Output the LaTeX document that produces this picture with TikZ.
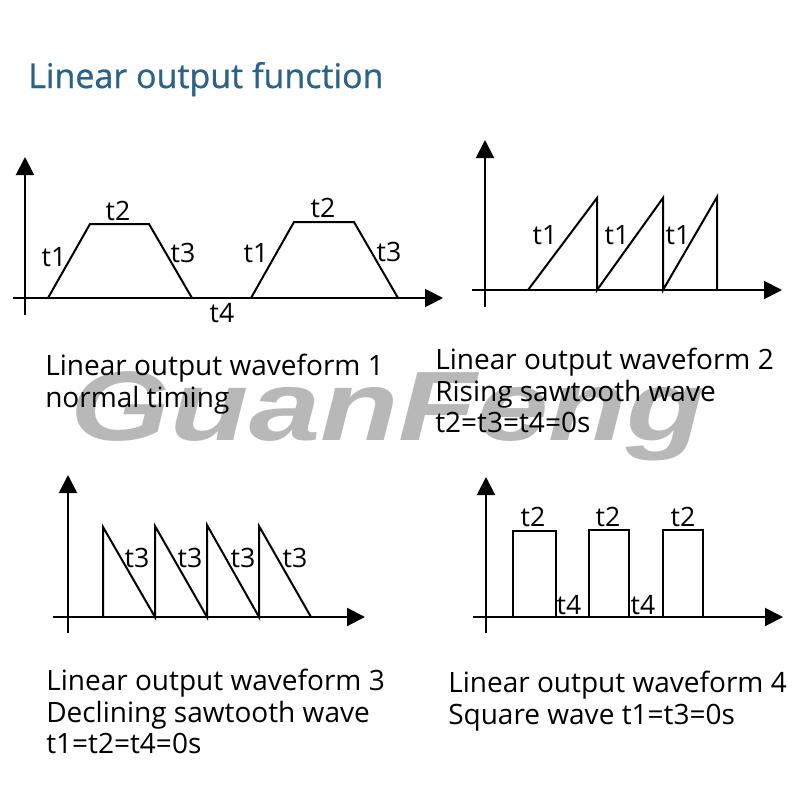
\documentclass[tikz,border=0pt]{standalone}
\usepackage{fontspec}
\setmainfont{Open Sans}
\newfontfamily\wmfont{Liberation Sans}
\newfontfamily\titlefont{Open Sans}[FakeBold=0.8]
\usetikzlibrary{arrows.meta}
\definecolor{titleblue}{RGB}{44,98,135}
\definecolor{wmgray}{RGB}{184,184,184}
\tikzset{
  axis/.style={line width=1.5pt,-{Triangle[length=13.5pt,width=13.5pt]}},
  wave/.style={line width=1.5pt,line join=miter},
  tlabel/.style={inner sep=0pt,font=\fontsize{20pt}{20pt}\selectfont},
  caption/.style={anchor=base west,inner sep=0pt,font=\fontsize{21pt}{24pt}\selectfont},
}
\begin{document}
\begin{tikzpicture}[x=0.75pt,y=-0.75pt]
\useasboundingbox (0,0) rectangle (800,800);
\fill[white] (0,0) rectangle (800,800);

% watermark
\node[anchor=base,inner sep=0pt,text=wmgray,font=\wmfont\bfseries\itshape\fontsize{74pt}{74pt}\selectfont,xscale=1.3] (wm) at (388,440) {GuanFeng};

% title
\node[anchor=base west,inner sep=0pt,text=titleblue,font=\titlefont\fontsize{25.5pt}{30pt}\selectfont] (title) at (28,88) {Linear output function};

% ---------- panel 1 ----------
\coordinate (a1b) at (25,315); \coordinate (a1t) at (25,157);
\coordinate (x1l) at (13,298); \coordinate (x1r) at (443,298);
\draw[axis] (a1b) -- (a1t);
\draw[axis] (x1l) -- (x1r);
\coordinate (p1a) at (48,298); \coordinate (p1b) at (90,224); \coordinate (p1c) at (149,224); \coordinate (p1d) at (192,298);
\coordinate (p1e) at (251,298); \coordinate (p1f) at (294,222); \coordinate (p1g) at (354,222); \coordinate (p1h) at (398,298);
\draw[wave] (p1a) -- (p1b) -- (p1c) -- (p1d);
\draw[wave] (p1e) -- (p1f) -- (p1g) -- (p1h);
\node[tlabel] (l1a) at (54,257) {t1};
\node[tlabel] (l1b) at (118,211) {t2};
\node[tlabel] (l1c) at (183,253) {t3};
\node[tlabel] (l1d) at (256,253) {t1};
\node[tlabel] (l1e) at (323,208) {t2};
\node[tlabel] (l1f) at (389,252) {t3};
\node[tlabel] (l1g) at (222,313) {t4};

% ---------- panel 2 ----------
\coordinate (a2b) at (485,307); \coordinate (a2t) at (485,140);
\coordinate (x2l) at (472,290); \coordinate (x2r) at (782,290);
\draw[axis] (a2b) -- (a2t);
\draw[axis] (x2l) -- (x2r);
\coordinate (p2a) at (528,290); \coordinate (p2b) at (597,198); \coordinate (p2c) at (597,290);
\coordinate (p2d) at (663,198); \coordinate (p2e) at (663,290);
\coordinate (p2f) at (717,197); \coordinate (p2g) at (717,290);
\draw[wave] (p2a) -- (p2b) -- (p2c) -- (p2d) -- (p2e) -- (p2f) -- (p2g);
\node[tlabel] (l2a) at (545,235) {t1};
\node[tlabel] (l2b) at (617,235) {t1};
\node[tlabel] (l2c) at (678,235) {t1};

% ---------- panel 3 ----------
\coordinate (a3b) at (68,633); \coordinate (a3t) at (68,475);
\coordinate (x3l) at (53,617); \coordinate (x3r) at (365,617);
\draw[axis] (a3b) -- (a3t);
\draw[axis] (x3l) -- (x3r);
\coordinate (p3a) at (103,617); \coordinate (p3b) at (103,527); \coordinate (p3c) at (155,617);
\coordinate (p3d) at (155,526); \coordinate (p3e) at (207,617);
\coordinate (p3f) at (207,525); \coordinate (p3g) at (259,617);
\coordinate (p3h) at (259,526); \coordinate (p3i) at (311,617);
\draw[wave] (p3a) -- (p3b) -- (p3c) -- (p3d) -- (p3e) -- (p3f) -- (p3g) -- (p3h) -- (p3i);
\node[tlabel] (l3a) at (137,558) {t3};
\node[tlabel] (l3b) at (190,558) {t3};
\node[tlabel] (l3c) at (243,558) {t3};
\node[tlabel] (l3d) at (295,558) {t3};

% ---------- panel 4 ----------
\coordinate (a4b) at (486,633); \coordinate (a4t) at (486,477);
\coordinate (x4l) at (473,617); \coordinate (x4r) at (783,617);
\draw[axis] (a4b) -- (a4t);
\draw[axis] (x4l) -- (x4r);
\coordinate (r1a) at (513,617); \coordinate (r1b) at (513,531); \coordinate (r1c) at (556,531); \coordinate (r1d) at (556,617);
\coordinate (r2a) at (589,617); \coordinate (r2b) at (589,530); \coordinate (r2c) at (629,530); \coordinate (r2d) at (629,617);
\coordinate (r3a) at (663,617); \coordinate (r3b) at (663,530); \coordinate (r3c) at (703,530); \coordinate (r3d) at (703,617);
\draw[wave] (r1a) -- (r1b) -- (r1c) -- (r1d);
\draw[wave] (r2a) -- (r2b) -- (r2c) -- (r2d);
\draw[wave] (r3a) -- (r3b) -- (r3c) -- (r3d);
\node[tlabel] (l4a) at (533,517) {t2};
\node[tlabel] (l4b) at (608,517) {t2};
\node[tlabel] (l4c) at (683,517) {t2};
\node[tlabel] (l4d) at (569,605) {t4};
\node[tlabel] (l4e) at (643,605) {t4};

% ---------- captions ----------
\node[caption] (c1a) at (45,375) {Linear output waveform 1};
\node[caption] (c1b) at (45,407) {normal timing};
\node[caption] (c2a) at (435,369) {Linear output waveform 2};
\node[caption] (c2b) at (435,401) {Rising sawtooth wave};
\node[caption] (c2c) at (435,432) {t2=t3=t4=0s};
\node[caption] (c3a) at (46,690) {Linear output waveform 3};
\node[caption] (c3b) at (46,722) {Declining sawtooth wave};
\node[caption] (c3c) at (46,753) {t1=t2=t4=0s};
\node[caption] (c4a) at (448,692) {Linear output waveform 4};
\node[caption] (c4b) at (448,724) {Square wave t1=t3=0s};
\end{tikzpicture}
\end{document}
